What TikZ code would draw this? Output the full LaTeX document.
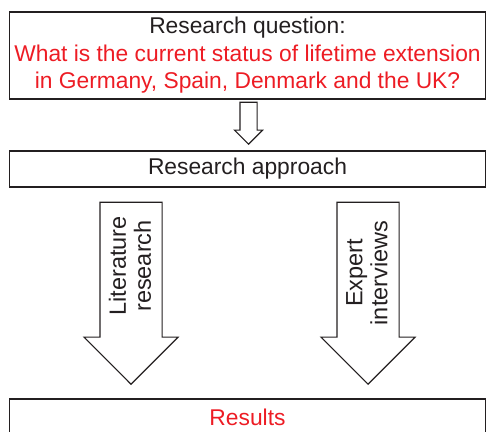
\documentclass[tikz,border=0pt]{standalone}
\usepackage{fontspec}
\setmainfont{Liberation Sans}
\usepackage{tikz}
\usetikzlibrary{shapes,arrows}
\definecolor{qred}{RGB}{237,28,36}
\definecolor{ink}{RGB}{35,31,32}
\tikzstyle{block} = [rectangle, draw=ink, line width=1.8pt, text=ink,
    align=center, minimum width=476pt, inner sep=0pt,
    font=\fontsize{22.8}{27.5}\selectfont]
\tikzstyle{bigarrow} = [single arrow, draw=ink, line width=1.1pt,
    shape border rotate=270, inner sep=30.5pt, anchor=tip,
    minimum width=93pt, single arrow head extend=16pt, minimum height=182pt]
\tikzstyle{smallarrow} = [single arrow, draw=ink, line width=1.1pt,
    shape border rotate=270, inner sep=8pt, anchor=tip,
    minimum width=27pt, single arrow head extend=5.5pt, minimum height=42pt]
\tikzstyle{arrowtext} = [rotate=90, align=center, text=ink, inner sep=0pt,
    font=\fontsize{23.5}{25}\selectfont]

\begin{document}
\begin{tikzpicture}[x=1pt, y=1pt, node distance=113.5pt]
  \useasboundingbox (0,0) rectangle (486,431);
    % Place nodes
    \node [block, minimum height=87pt] (question) at (247.5,375.5) {Research question:\\
    \color{qred}What is the current status of lifetime extension\\
    \color{qred}in Germany, Spain, Denmark and the UK?};
    \node [block, below of=question, minimum height=36pt] (approach) {Research approach};
    \node [smallarrow] (toApproach) at (248.5,286) {};
    \node [bigarrow] (literature) at (131,46) {};
    \node [bigarrow] (experts) at (368,46) {};
    \node [block, below of=approach, node distance=248pt, minimum height=36pt,
      text=qred] (results) {Results};

    % Labels on the big arrows
    \node [arrowtext] (literatureText) at (130,165) {Literature\\ research};
    \node [arrowtext] (expertsText) at (367,158) {Expert\\ interviews};
\end{tikzpicture}
\end{document}
